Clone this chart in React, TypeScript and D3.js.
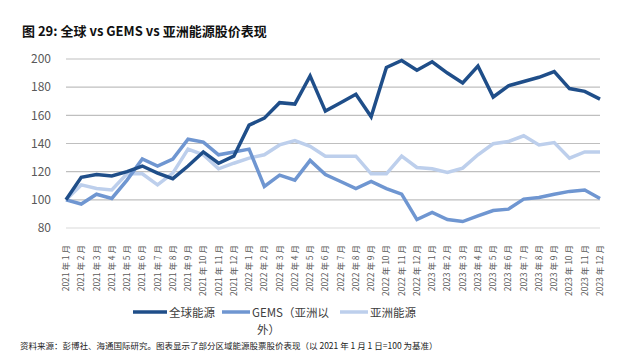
import React, { useEffect, useRef } from "react";
import * as d3 from "d3";

const months: string[] = [];
for (const yr of [2021, 2022, 2023]) {
  for (let m = 1; m <= 12; m++) months.push(`${yr} 年 ${m} 月`);
}

const globalEnergy = [
  100, 116, 118, 117, 120, 124, 119, 115, 124, 134, 126, 131,
  153, 158, 169, 168, 188, 163, 169, 175, 159, 194, 199, 192,
  198, 190, 183, 195, 173, 181, 184, 187, 191, 179, 177, 171.5,
];
const gems = [
  100, 97, 104, 101, 114, 129, 124, 129, 143, 141, 132, 134,
  136, 109.5, 117.5, 114, 128, 118, 113, 108, 113, 108, 104, 86,
  91, 86, 84.6, 88.6, 92.4, 93.4, 100.5, 101.7, 104, 106, 107, 101,
];
const asiaEnergy = [
  100, 110.6, 108, 107, 118.5, 118.5, 110.6, 119, 136, 132, 122, 126,
  129.6, 132, 139, 142, 138, 131, 131, 131, 118.5, 118.5, 131, 123,
  122, 119.4, 122.5, 132, 139.8, 141.4, 145.5, 139, 140.7, 129.6, 134, 134,
];
const yTicks = [80, 100, 120, 140, 160, 180, 200];

const series = [
  { name: "全球能源", values: globalEnergy, color: "#1F4E89" },
  { name: "GEMS（亚洲以外）", values: gems, color: "#6F96D1" },
  { name: "亚洲能源", values: asiaEnergy, color: "#BDCFEC" },
];

const W = 620;
const H = 351;
const FONT = "'Noto Sans CJK SC', 'Noto Sans', sans-serif";

export default function App() {
  const ref = useRef<SVGSVGElement>(null);

  useEffect(() => {
    if (!ref.current) return;
    const svg = d3.select(ref.current);
    svg.selectAll("*").remove();

    const x = d3.scalePoint<string>().domain(months).range([66, 600]);
    const y = d3.scaleLinear().domain([80, 200]).range([228, 59]);

    // title
    svg
      .append("text")
      .attr("x", 22)
      .attr("y", 36)
      .attr("font-family", FONT)
      .attr("font-size", 13)
      .attr("font-weight", "bold")
      .attr("fill", "#111")
      .text("图 29:  全球 vs GEMS vs 亚洲能源股价表现");

    // grid
    svg
      .append("g")
      .selectAll("line")
      .data(yTicks)
      .enter()
      .append("line")
      .attr("x1", 66)
      .attr("x2", 600)
      .attr("y1", (d) => y(d))
      .attr("y2", (d) => y(d))
      .attr("stroke", (d) => (d === 80 ? "#d9d9d9" : "#bfbfbf"))
      .attr("stroke-width", 1.2);

    // y labels
    svg
      .append("g")
      .selectAll("text")
      .data(yTicks)
      .enter()
      .append("text")
      .attr("x", 51)
      .attr("y", (d) => y(d))
      .attr("dy", "0.35em")
      .attr("text-anchor", "end")
      .attr("font-family", FONT)
      .attr("font-size", 12)
      .attr("fill", "#595959")
      .text((d) => d);

    // x labels
    svg
      .append("g")
      .selectAll("text")
      .data(months)
      .enter()
      .append("text")
      .attr("transform", (d) => `translate(${x(d)! + 3},245) rotate(-90)`)
      .attr("text-anchor", "end")
      .attr("font-family", FONT)
      .attr("font-size", 8.5)
      .attr("fill", "#595959")
      .text((d) => d);

    const line = d3
      .line<number>()
      .x((_, i) => x(months[i])!)
      .y((d) => y(d));

    const drawOrder = [series[2], series[1], series[0]];
    drawOrder.forEach((s) => {
      svg
        .append("path")
        .datum(s.values)
        .attr("d", line)
        .attr("fill", "none")
        .attr("stroke", s.color)
        .attr("stroke-width", 3.5)
        .attr("stroke-linejoin", "miter");
    });

    // legend
    const legendX = [133, 222, 340];
    series.forEach((s, i) => {
      const g = svg.append("g").attr("transform", `translate(${legendX[i]},312)`);
      g.append("line")
        .attr("x1", 0)
        .attr("x2", 34 - (i > 0 ? 6 : 0))
        .attr("y1", 0)
        .attr("y2", 0)
        .attr("stroke", s.color)
        .attr("stroke-width", 3.5);
      const tx = 36 - (i > 0 ? 6 : 0);
      const label = (t: string, dx: number, dy: number) =>
        g
          .append("text")
          .attr("x", dx)
          .attr("y", dy)
          .attr("font-family", FONT)
          .attr("font-size", 11.5)
          .attr("fill", "#404040")
          .text(t);
      if (i === 1) {
        label("GEMS（亚洲以", tx, 4.5);
        label("外）", tx + 5, 22);
      } else {
        label(s.name, tx, 4.5);
      }
    });

    // source
    svg
      .append("text")
      .attr("x", 20)
      .attr("y", 349)
      .attr("font-family", FONT)
      .attr("font-size", 8.5)
      .attr("fill", "#222")
      .text("资料来源：彭博社、海通国际研究。图表显示了部分区域能源股票股价表现（以 2021 年 1 月 1 日=100 为基准）");
  }, []);

  return (
    <svg
      ref={ref}
      width={W}
      height={H}
      style={{ position: "absolute", left: 0, top: 0, background: "#fff" }}
    />
  );
}
